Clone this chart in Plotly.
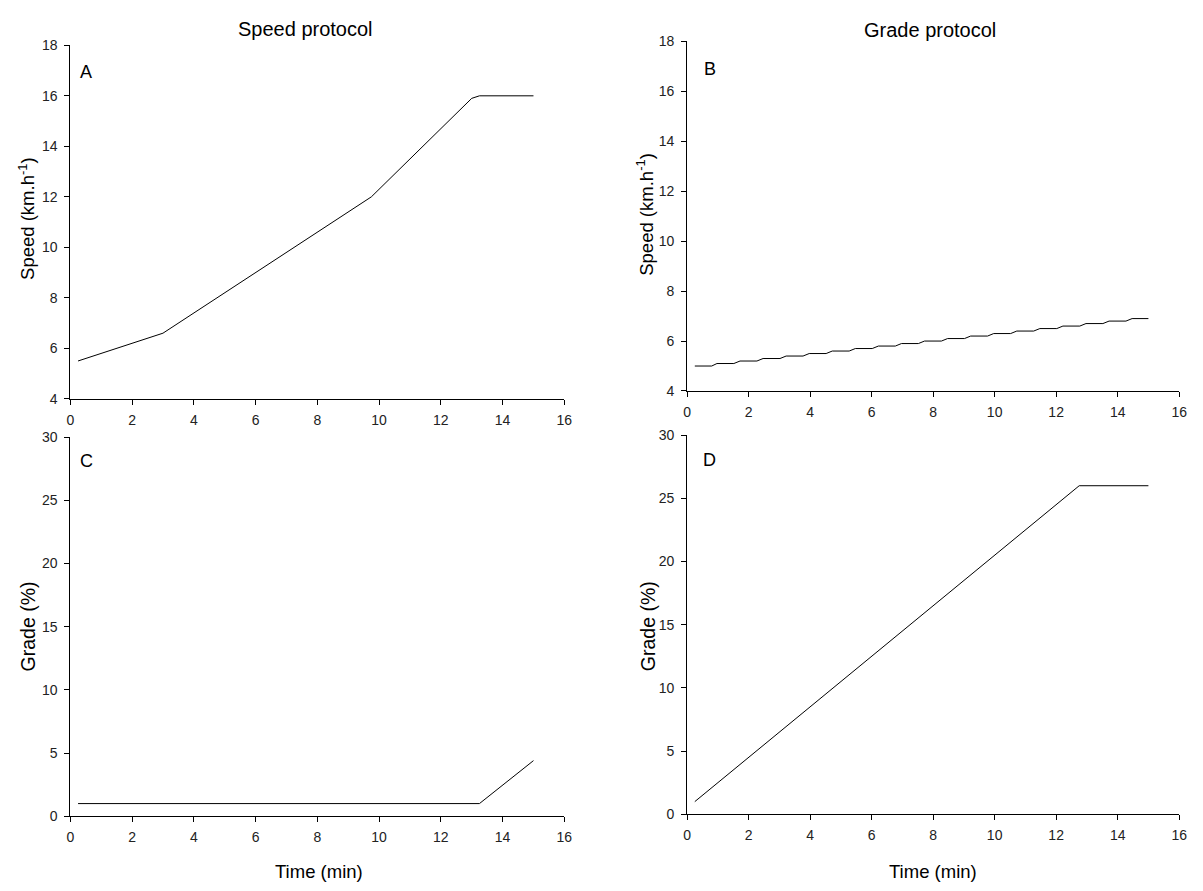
import plotly.graph_objects as go

# Panel A: speed protocol, speed vs time
a_time = [0.25, 3.0, 9.75, 13.0, 13.25, 15.0]
a_speed = [5.5, 6.6, 12.0, 15.9, 16.0, 16.0]

# Panel B: grade protocol, speed steps (step start times, end times and levels)
b_step_start = [0.25, 0.97, 1.72, 2.47, 3.22, 3.97, 4.72, 5.47, 6.22, 6.97,
                7.72, 8.47, 9.22, 9.97, 10.72, 11.47, 12.22, 12.97, 13.72, 14.47]
b_step_end = [0.80, 1.52, 2.27, 3.02, 3.77, 4.52, 5.27, 6.02, 6.77, 7.52,
              8.27, 9.02, 9.77, 10.52, 11.27, 12.02, 12.77, 13.52, 14.27, 15.0]
b_speed = [5.0, 5.1, 5.2, 5.3, 5.4, 5.5, 5.6, 5.7, 5.8, 5.9,
           6.0, 6.1, 6.2, 6.3, 6.4, 6.5, 6.6, 6.7, 6.8, 6.9]

# Panel C: speed protocol, grade vs time
c_time = [0.25, 13.25, 15.0]
c_grade = [1.0, 1.0, 4.4]

# Panel D: grade protocol, grade vs time
d_time = [0.25, 12.75, 15.0]
d_grade = [1.0, 26.0, 26.0]

x_ticks = [0, 2, 4, 6, 8, 10, 12, 14, 16]
speed_ticks = [4, 6, 8, 10, 12, 14, 16, 18]
grade_ticks = [0, 5, 10, 15, 20, 25, 30]

b_time, b_vals = [], []
for s, e, v in zip(b_step_start, b_step_end, b_speed):
    b_time += [s, e]
    b_vals += [v, v]

FONT = "Liberation Sans, Arial, sans-serif"
line = dict(color="black", width=1)

fig = go.Figure()
fig.add_trace(go.Scatter(x=a_time, y=a_speed, mode="lines", line=line, xaxis="x", yaxis="y", showlegend=False))
fig.add_trace(go.Scatter(x=b_time, y=b_vals, mode="lines", line=line, xaxis="x2", yaxis="y2", showlegend=False))
fig.add_trace(go.Scatter(x=c_time, y=c_grade, mode="lines", line=line, xaxis="x3", yaxis="y3", showlegend=False))
fig.add_trace(go.Scatter(x=d_time, y=d_grade, mode="lines", line=line, xaxis="x4", yaxis="y4", showlegend=False))

W, H = 1203, 891
def px_x(p): return p / W
def px_y(p): return 1 - p / H

TICKFONT = dict(family=FONT, size=14, color="#222")
common_x = dict(range=[0, 16], tickvals=x_ticks, showgrid=False, zeroline=False,
                showline=True, linecolor="black", linewidth=1, ticks="outside",
                ticklen=5, tickcolor="black", tickfont=TICKFONT, ticklabelstandoff=3)
common_y = dict(showgrid=False, zeroline=False, showline=True, linecolor="black",
                linewidth=1, ticks="outside", ticklen=5, tickcolor="black",
                tickfont=TICKFONT, ticklabelstandoff=4)

dA = [px_x(67), px_x(566)]
dB = [px_x(690), px_x(1187)]

fig.update_layout(
    width=W, height=H, margin=dict(l=0, r=0, t=0, b=0),
    paper_bgcolor="white", plot_bgcolor="white",
    font=dict(family=FONT, color="black"),
    xaxis=dict(domain=dA, anchor="y", **common_x),
    yaxis=dict(domain=[px_y(398), px_y(38)], range=[4, 18], tickvals=speed_ticks, anchor="x", **common_y),
    xaxis2=dict(domain=dB, anchor="y2", **common_x),
    yaxis2=dict(domain=[px_y(390), px_y(34)], range=[4, 18], tickvals=speed_ticks, anchor="x2", **common_y),
    xaxis3=dict(domain=dA, anchor="y3", **common_x),
    yaxis3=dict(domain=[px_y(823), px_y(437)], range=[0, 30], tickvals=grade_ticks, anchor="x3", **common_y),
    xaxis4=dict(domain=dB, anchor="y4", **common_x),
    yaxis4=dict(domain=[px_y(821), px_y(435)], range=[0, 30], tickvals=grade_ticks, anchor="x4", **common_y),
)

def ann(text, x, y, size, angle=0):
    fig.add_annotation(text=text, x=px_x(x), y=px_y(y), xref="paper", yref="paper",
                       showarrow=False, textangle=angle, xanchor="center", yanchor="middle",
                       font=dict(family=FONT, size=size, color="black"))

ann("Speed protocol", 305, 21, 20)
ann("Grade protocol", 935, 22, 20)
ann("A", 83, 65, 18)
ann("B", 713, 62, 18)
ann("C", 83, 461, 18)
ann("D", 713, 460, 18)
ann("Speed (km.h<sup>-1</sup>)", 23, 214, 18.5, -90)
ann("Speed (km.h<sup>-1</sup>)", 648, 210, 18.5, -90)
ann("Grade (%)", 24, 630, 19.5, -90)
ann("Grade (%)", 650, 630, 19.5, -90)
ann("Time (min)", 318, 879, 18.5)
ann("Time (min)", 938, 879, 18.5)

fig.write_html(
    "out.html",
    config={"displayModeBar": False},
    post_script="document.body.style.margin='0';document.body.style.overflow='hidden';",
)
